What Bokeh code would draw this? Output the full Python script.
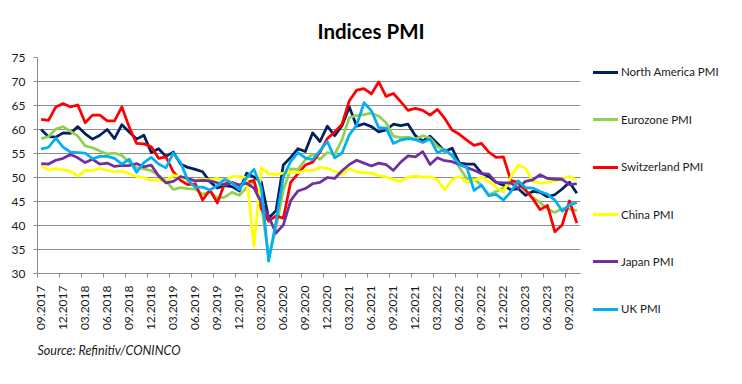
import math
from bokeh.plotting import figure
from bokeh.layouts import row
from bokeh.models import FixedTicker, Title, Div
from bokeh.embed import file_html
from bokeh.resources import INLINE

# Monthly data, 09.2017 .. 10.2023
months = [f"{m:02d}.{y}" for y in range(2017, 2024) for m in range(1, 13)]
months = months[months.index("09.2017"):months.index("10.2023") + 1]

north_america = [60.0, 58.5, 58.4, 59.3, 59.2, 60.6, 59.1, 58.0, 58.8, 60.0, 58.1, 61.0,
                 59.5, 58.0, 58.8, 55.2, 56.0, 54.4, 55.3, 52.8, 52.1, 51.7, 51.2, 49.1,
                 47.8, 48.3, 48.1, 47.2, 50.9, 50.1, 49.1, 41.5, 43.1, 52.6, 54.2, 56.0,
                 55.4, 59.3, 57.5, 60.7, 58.7, 60.8, 64.7, 60.7, 61.2, 60.6, 59.5, 59.9,
                 61.1, 60.8, 61.1, 58.7, 57.6, 58.6, 57.1, 55.4, 56.1, 53.0, 52.8, 52.8,
                 50.9, 50.2, 49.0, 48.4, 47.4, 47.7, 46.3, 47.1, 46.9, 46.0, 46.4, 47.6,
                 49.0, 46.7]
eurozone = [58.1, 58.5, 60.1, 60.6, 59.6, 58.6, 56.6, 56.2, 55.5, 54.9, 55.1, 54.6,
            53.2, 52.0, 51.8, 51.4, 50.5, 49.3, 47.5, 47.9, 47.7, 47.6, 46.5, 47.0,
            45.7, 45.9, 46.9, 46.3, 47.9, 49.2, 44.5, 33.4, 39.4, 47.4, 51.8, 51.7,
            53.7, 54.8, 53.8, 55.2, 54.8, 57.9, 62.5, 62.9, 63.1, 63.4, 62.8, 61.4,
            58.6, 58.3, 58.4, 58.0, 58.7, 58.2, 56.5, 55.5, 54.6, 52.1, 49.8, 49.6,
            48.4, 46.4, 47.1, 47.8, 48.8, 48.5, 47.3, 45.8, 44.8, 43.4, 42.7, 43.5,
            43.4, 43.1]
switzerland = [62.1, 61.9, 64.7, 65.4, 64.7, 65.1, 61.4, 63.0, 63.0, 61.8, 61.8, 64.7,
               60.5, 57.1, 57.0, 56.4, 54.0, 54.3, 51.2, 49.4, 48.5, 48.7, 45.3, 47.4,
               44.7, 48.7, 49.0, 48.4, 49.0, 49.4, 43.5, 40.9, 42.0, 41.5, 49.0, 50.8,
               52.6, 53.2, 55.3, 58.1, 59.5, 61.1, 66.0, 68.2, 68.5, 67.4, 69.9, 66.9,
               67.5, 65.8, 64.0, 64.4, 64.0, 63.0, 64.2, 62.3, 59.9, 59.0, 57.8, 56.7,
               57.1, 55.3, 54.2, 54.3, 49.4, 49.0, 47.4, 45.6, 43.3, 44.2, 38.7, 40.1,
               45.1, 40.5]
china = [52.4, 51.6, 51.8, 51.6, 51.3, 50.3, 51.5, 51.4, 51.9, 51.5, 51.2, 51.3,
         50.8, 50.2, 50.0, 49.4, 49.5, 49.2, 50.5, 50.1, 49.4, 49.4, 49.7, 49.5,
         49.8, 49.3, 50.2, 50.2, 50.0, 35.7, 52.0, 50.8, 50.6, 50.9, 51.1, 51.0,
         51.5, 51.4, 52.1, 51.9, 51.3, 50.6, 51.9, 51.1, 51.0, 50.9, 50.4, 50.1,
         49.6, 49.2, 50.1, 50.3, 50.1, 50.2, 49.5, 47.4, 49.6, 50.2, 49.0, 49.4,
         50.1, 49.2, 48.0, 47.0, 50.1, 52.6, 51.9, 49.2, 48.8, 49.0, 49.3, 49.7,
         50.2, 49.5]
japan = [52.9, 52.8, 53.6, 54.0, 54.8, 54.1, 53.1, 53.8, 52.8, 53.0, 52.3, 52.5,
         52.5, 52.9, 52.2, 52.6, 50.3, 48.9, 49.2, 50.2, 49.8, 49.3, 49.4, 49.3,
         48.9, 48.4, 48.9, 48.4, 48.8, 47.8, 44.8, 41.9, 38.4, 40.1, 45.2, 47.2,
         47.7, 48.7, 49.0, 50.0, 49.8, 51.4, 52.7, 53.6, 53.0, 52.4, 53.0, 52.7,
         51.5, 53.2, 54.5, 54.3, 55.4, 52.7, 54.1, 53.5, 53.3, 52.7, 52.1, 51.5,
         50.8, 50.7, 49.0, 48.9, 48.9, 47.7, 49.2, 49.5, 50.6, 49.8, 49.6, 49.6,
         48.5, 48.7]
uk = [55.9, 56.3, 58.2, 56.3, 55.3, 55.2, 55.1, 53.9, 54.4, 54.4, 54.0, 52.8,
      53.8, 51.1, 53.1, 54.2, 52.8, 52.0, 55.1, 53.1, 49.4, 48.0, 48.0, 47.4,
      48.3, 49.6, 48.9, 47.5, 50.0, 51.7, 47.8, 32.6, 40.7, 50.1, 53.3, 55.2,
      54.1, 53.7, 55.6, 57.5, 54.1, 55.1, 58.9, 60.9, 65.6, 63.9, 60.4, 60.3,
      57.1, 57.8, 58.1, 57.9, 57.3, 58.0, 55.2, 55.8, 54.6, 52.8, 52.1, 47.3,
      48.4, 46.2, 46.5, 45.3, 47.0, 49.3, 47.9, 47.8, 47.1, 46.5, 45.3, 43.0,
      44.3, 44.8]

series_names = ["North America PMI", "Eurozone PMI", "Switzerland PMI",
                "China PMI", "Japan PMI", "UK PMI"]
series_values = [north_america, eurozone, switzerland, china, japan, uk]
series_colors = ["#002060", "#92D050", "#FF0000", "#FFFF00", "#7030A0", "#00B0F0"]

y_ticks = list(range(30, 80, 5))
tick_step = 3
x = list(range(len(months)))
tick_positions = x[::tick_step]
tick_labels = {i: months[i] for i in tick_positions}

GRID = "#8c8c8c"
TXT = "#1a1a1a"
FONT = "Lato"
LW = 2.75

p = figure(width=585, height=368, x_range=(-0.5, len(months) - 0.5), y_range=(30, 75),
           output_backend="svg", toolbar_location=None,
           min_border_left=37, min_border_right=5, min_border_top=57, min_border_bottom=95)
p.outline_line_color = None
p.background_fill_color = "white"

for name, vals, col in zip(series_names, series_values, series_colors):
    p.line(x, vals, line_color=col, line_width=LW, line_join="round")

p.add_layout(Title(text="Indices PMI", text_font=FONT, text_font_size="20.5px",
                   text_font_style="bold", text_color="#000000", align="left",
                   offset=280, standoff=30), "above")

# axes
p.xaxis.ticker = FixedTicker(ticks=tick_positions,
                             minor_ticks=[t - 0.5 for t in tick_positions])
p.xaxis.major_label_overrides = tick_labels
p.xaxis.major_label_orientation = math.pi / 2
p.xaxis.major_tick_out = 0
p.xaxis.major_tick_in = 0
p.xaxis.minor_tick_out = 4
p.xaxis.minor_tick_in = 0
p.xaxis.minor_tick_line_color = GRID
p.xaxis.axis_line_color = GRID
p.xaxis.major_label_standoff = 8
p.xaxis.major_label_text_font = FONT
p.xaxis.major_label_text_font_size = "12px"
p.xaxis.major_label_text_color = TXT

p.yaxis.ticker = FixedTicker(ticks=y_ticks)
p.yaxis.major_tick_out = 4
p.yaxis.major_tick_in = 0
p.yaxis.minor_tick_line_color = None
p.yaxis.major_tick_line_color = GRID
p.yaxis.axis_line_color = GRID
p.yaxis.major_label_standoff = 8
p.yaxis.major_label_text_font = FONT
p.yaxis.major_label_text_font_size = "12px"
p.yaxis.major_label_text_color = TXT

p.xgrid.visible = False
p.ygrid.ticker = FixedTicker(ticks=y_ticks)
p.ygrid.grid_line_color = GRID
p.ygrid.grid_line_width = 1

p.add_layout(Title(text="Source: Refinitiv/CONINCO", text_font=FONT,
                   text_font_style="italic", text_font_size="12.5px",
                   text_color=TXT, align="left", offset=0, standoff=14), "below")

# legend column (HTML) to the right of the plot
first_center = 72.3
pitch = 47.4
entries = []
for k, (name, col) in enumerate(zip(series_names, series_colors)):
    top = first_center + k * pitch - 10
    entries.append(
        f'<div style="position:absolute;left:8px;top:{top:.1f}px;height:20px;'
        f'display:flex;align-items:center;white-space:nowrap;">'
        f'<span style="display:inline-block;width:25px;height:3px;background:{col};'
        f'margin-right:3px;"></span><span>{name}</span></div>')
legend_html = (f'<div style="position:relative;width:141px;height:368px;'
               f'font-family:{FONT};font-size:11.5px;color:{TXT};line-height:1.2;">'
               + "".join(entries) + "</div>")
lg = Div(text=legend_html, width=141, height=368, margin=(0, 0, 0, 0))

open("out.html", "w").write(file_html(row(p, lg), INLINE))
